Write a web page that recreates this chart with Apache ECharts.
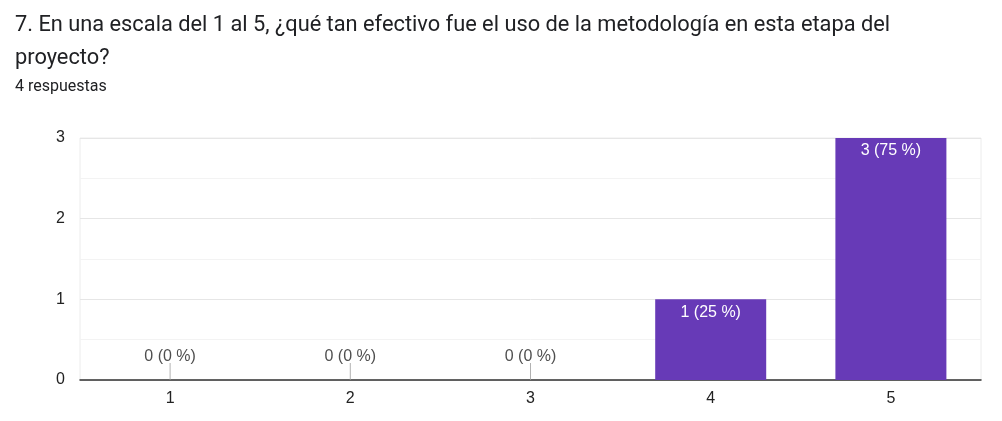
<!DOCTYPE html>
<html>
<head>
<meta charset="utf-8">
<script src="https://cdn.jsdelivr.net/npm/echarts@6/dist/echarts.min.js"></script>
<style>
html,body{margin:0;padding:0;background:#fff;}
#c{width:1002px;height:421px;}
</style>
</head>
<body>
<div id="c"></div>
<script>
var titleText = '7. En una escala del 1 al 5, ¿qué tan efectivo fue el uso de la metodología en esta etapa del\nproyecto?';
var subtitleText = '4 respuestas';
var categories = ['1', '2', '3', '4', '5'];
var counts = [0, 0, 0, 1, 3];
var yTicks = [0, 1, 2, 3];

var total = counts.reduce(function (a, b) { return a + b; }, 0);
function lbl(v) { return v + ' (' + Math.round(v / total * 100) + ' %)'; }

var labelFont = '"Liberation Sans", Arial, sans-serif';
var chart = echarts.init(document.getElementById('c'), null, { renderer: 'canvas' });
chart.setOption({
  animation: false,
  textStyle: { fontFamily: labelFont },
  title: [
    {
      text: titleText,
      left: 15, top: 9, padding: 0,
      textStyle: { fontSize: 21.8, fontWeight: 'normal', color: '#202124', lineHeight: 33, fontFamily: 'Roboto, Arial, sans-serif' }
    },
    {
      text: subtitleText,
      left: 15, top: 79, padding: 0,
      textStyle: { fontSize: 16, fontWeight: 'normal', color: '#202124', fontFamily: 'Roboto, Arial, sans-serif' }
    }
  ],
  grid: { left: 80, right: 21, top: 138, bottom: 41, show: true, borderColor: '#ececec', borderWidth: 1 },
  xAxis: {
    type: 'category',
    data: categories,
    axisLine: { lineStyle: { color: '#333', width: 1.5 } },
    axisTick: { show: false },
    axisLabel: { color: '#222', fontSize: 16, margin: 11, fontFamily: labelFont },
    splitLine: { show: false }
  },
  yAxis: {
    type: 'value',
    min: yTicks[0], max: yTicks[yTicks.length - 1], interval: 1,
    axisLine: { show: false },
    axisTick: { show: false },
    axisLabel: { color: '#222', fontSize: 16, margin: 15, fontFamily: labelFont },
    splitLine: { lineStyle: { color: '#e6e6e6', width: 1 } },
    minorTick: { show: false, splitNumber: 2 },
    minorSplitLine: { show: true, lineStyle: { color: '#f3f3f3', width: 1 } }
  },
  series: [
    {
      type: 'bar',
      data: counts,
      barWidth: 111,
      itemStyle: { color: '#673ab7' },
      label: {
        show: true,
        position: 'insideTop',
        distance: 5,
        color: '#ffffff',
        fontSize: 16,
        fontFamily: labelFont,
        formatter: function (p) { return p.value > 0 ? lbl(p.value) : ''; }
      },
      z: 2
    },
    {
      type: 'scatter',
      data: counts.map(function (v) { return v === 0 ? 0 : '-'; }),
      symbol: 'rect',
      symbolSize: [1, 17],
      symbolOffset: [0, -8.5],
      itemStyle: { color: '#9e9e9e' },
      label: {
        show: true,
        position: 'top',
        distance: -2,
        color: '#222',
        fontSize: 16,
        fontFamily: labelFont,
        formatter: function (p) { return lbl(p.value); }
      },
      z: 3
    }
  ]
});
</script>
</body>
</html>
